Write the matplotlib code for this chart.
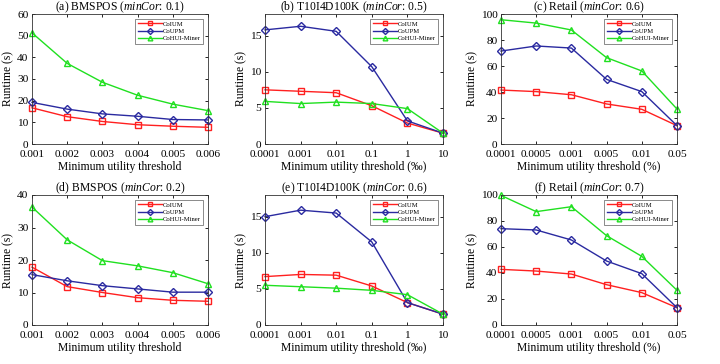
import matplotlib
matplotlib.use("Agg")
import matplotlib.pyplot as plt

plt.rcParams['font.family'] = ['Liberation Serif', 'DejaVu Serif']
plt.rcParams['mathtext.fontset'] = 'custom'
plt.rcParams['mathtext.rm'] = 'Liberation Serif'
plt.rcParams['mathtext.it'] = 'Liberation Serif:italic'

series_names = ["CoIUM", "CoUPM", "CoHUI-Miner"]

# x tick labels
x_bms = ["0.001", "0.002", "0.003", "0.004", "0.005", "0.006"]
x_t10 = ["0.0001", "0.001", "0.01", "0.1", "1", "10"]
x_ret = ["0.0001", "0.0005", "0.001", "0.005", "0.01", "0.05"]

# (a) BMSPOS minCor 0.1
a_coium = [16.7, 12.6, 10.4, 8.9, 8.2, 7.7]
a_coupm = [19.2, 16.1, 13.9, 12.8, 11.3, 11.1]
a_cohui = [51.3, 37.2, 28.5, 22.5, 18.4, 15.4]
# (b) T10I4D100K minCor 0.5
b_coium = [7.5, 7.3, 7.1, 5.3, 2.9, 1.5]
b_coupm = [15.8, 16.3, 15.6, 10.7, 3.2, 1.5]
b_cohui = [5.9, 5.6, 5.8, 5.6, 4.9, 1.5]
# (c) Retail minCor 0.6
c_coium = [41.5, 40.3, 37.9, 30.8, 26.7, 14.1]
c_coupm = [71.5, 75.4, 73.8, 49.7, 40.3, 14.1]
c_cohui = [95.6, 93.0, 87.7, 66.4, 56.2, 26.9]
# (d) BMSPOS minCor 0.2
d_coium = [17.8, 11.8, 10.0, 8.4, 7.6, 7.3]
d_coupm = [15.5, 13.6, 12.1, 11.1, 10.1, 10.1]
d_cohui = [36.3, 26.2, 19.8, 18.2, 16.1, 12.7]
# (e) T10I4D100K minCor 0.6
e_coium = [6.7, 7.0, 6.9, 5.4, 3.1, 1.5]
e_coupm = [15.0, 15.9, 15.5, 11.5, 3.1, 1.5]
e_cohui = [5.5, 5.3, 5.1, 4.8, 4.2, 1.5]
# (f) Retail minCor 0.7
f_coium = [42.8, 41.5, 39.2, 31.0, 24.9, 13.3]
f_coupm = [74.1, 73.1, 65.4, 49.2, 39.5, 13.3]
f_cohui = [99.7, 87.2, 91.0, 68.7, 52.8, 26.7]

panels = [
    ("(a) BMSPOS ($\\mathit{minCor}$: 0.1)", x_bms, "Minimum utility threshold", (0, 60), [0, 10, 20, 30, 40, 50, 60], (a_coium, a_coupm, a_cohui)),
    ("(b) T10I4D100K ($\\mathit{minCor}$: 0.5)", x_t10, "Minimum utility threshold (\u2030)", (0, 18), [0, 5, 10, 15], (b_coium, b_coupm, b_cohui)),
    ("(c) Retail ($\\mathit{minCor}$: 0.6)", x_ret, "Minimum utility threshold (%)", (0, 100), [0, 20, 40, 60, 80, 100], (c_coium, c_coupm, c_cohui)),
    ("(d) BMSPOS ($\\mathit{minCor}$: 0.2)", x_bms, "Minimum utility threshold", (0, 40), [0, 10, 20, 30, 40], (d_coium, d_coupm, d_cohui)),
    ("(e) T10I4D100K ($\\mathit{minCor}$: 0.6)", x_t10, "Minimum utility threshold (\u2030)", (0, 18), [0, 5, 10, 15], (e_coium, e_coupm, e_cohui)),
    ("(f) Retail ($\\mathit{minCor}$: 0.7)", x_ret, "Minimum utility threshold (%)", (0, 100), [0, 20, 40, 60, 80, 100], (f_coium, f_coupm, f_cohui)),
]

styles = [
    dict(color='#ff2020', marker='s'),
    dict(color='#2a2aa0', marker='D'),
    dict(color='#20e020', marker='^'),
]

W, H = 720, 364
fig = plt.figure(figsize=(W / 100, H / 100), dpi=100)

lefts = [32, 265, 501]
widths = [176, 178, 176]
tops = [14, 195]
height = 130

for i, (title, xl, xlabel, ylim, yticks, data) in enumerate(panels):
    r, c = divmod(i, 3)
    ax = fig.add_axes([lefts[c] / W, (H - tops[r] - height) / H, widths[c] / W, height / H])
    x = list(range(len(xl)))
    for name, ys, st in zip(series_names, data, styles):
        ms = 4.2 if st['marker'] != 'D' else 3.8
        ax.plot(x, ys, color=st['color'], marker=st['marker'], markersize=ms,
                markerfacecolor='none', markeredgecolor=st['color'],
                markeredgewidth=1.0, linewidth=1.0, label=name, clip_on=False)
    ax.set_xlim(0, len(xl) - 1)
    ax.set_ylim(*ylim)
    ax.set_xticks(x)
    ax.set_xticklabels(xl)
    ax.set_yticks(yticks)
    ax.tick_params(direction='in', labelsize=8.2, length=2.5, width=0.6, top=True, right=True)
    ax.tick_params(axis='x', pad=4.5)
    ax.tick_params(axis='y', pad=2.5)
    for sp in ax.spines.values():
        sp.set_linewidth(0.6)
        sp.set_color('#333333')
    ax.set_title(title, fontsize=8.4, pad=3)
    ax.set_xlabel(xlabel, fontsize=8.4, labelpad=1)
    ax.set_ylabel("Runtime (s)", fontsize=8.4, labelpad=2)
    leg = ax.legend(loc='upper right', fontsize=4.8, handlelength=3.6, frameon=True,
                    fancybox=False, edgecolor='#333333', borderpad=0.35,
                    labelspacing=0.25, handletextpad=0.2, borderaxespad=0.7,
                    markerscale=0.8)
    leg.get_frame().set_linewidth(0.5)

fig.savefig("out.png", dpi=100)
